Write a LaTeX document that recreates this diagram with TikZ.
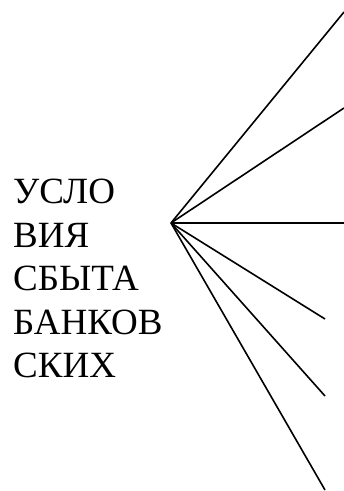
\documentclass[tikz,border=0pt]{standalone}
\usepackage{fontspec}
\setmainfont{Liberation Serif}
\begin{document}
\begin{tikzpicture}[x=1pt,y=1pt,
  word/.style={anchor=base west,inner sep=0,font=\fontsize{37}{43.5}\selectfont},
  spoke/.style={line width=1.6}]
\useasboundingbox (0,0) rectangle (344,491);

% label, one line per node
\foreach \w [count=\i] in {УСЛО,ВИЯ,СБЫТА,БАНКОВ,СКИХ}
{
    \node[word] (w\i) at (13,{287-43.5*(\i-1)}) {\w};
}

% fan of lines
\coordinate (hub) at (171,268);
\foreach \x/\y [count=\i] in {344/479,344/383,344/268,325/172,325/95,325/1}
{
    \coordinate (end\i) at (\x,\y);
    \draw[spoke] (hub) -- (end\i);
}

\end{tikzpicture}
\end{document}
